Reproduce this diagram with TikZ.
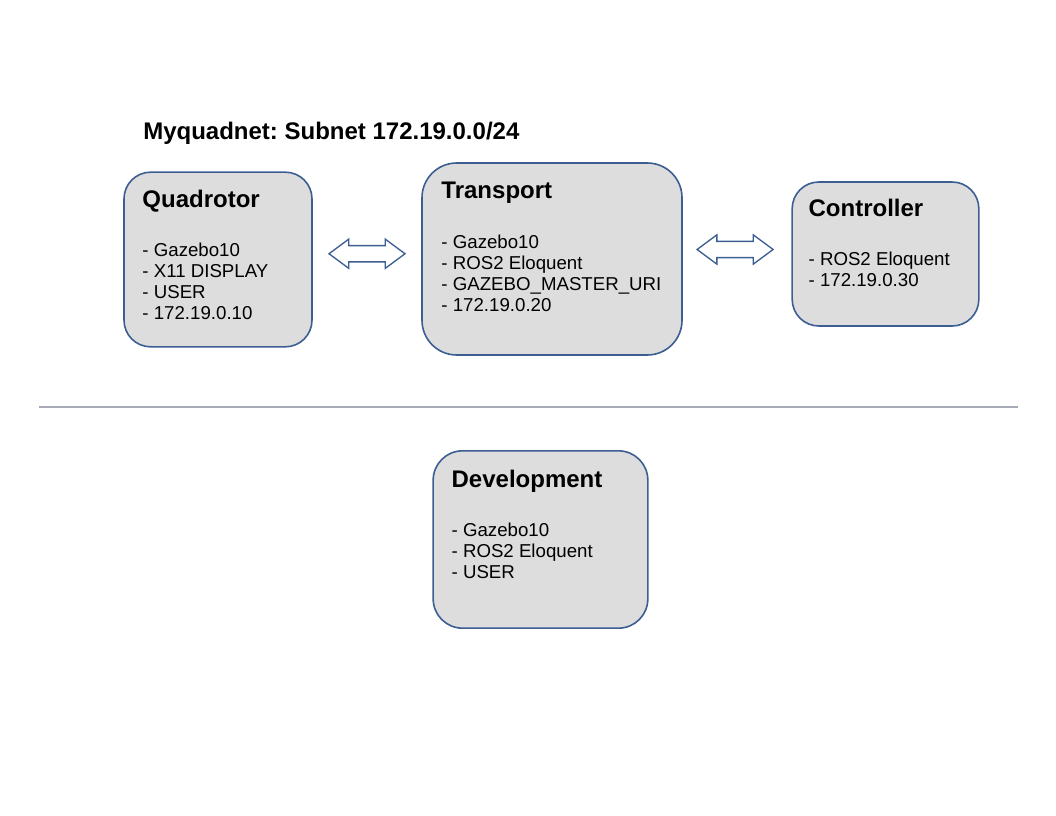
\documentclass[tikz,border=0pt]{standalone}
\usepackage{fontspec}
\setmainfont{Liberation Sans}
\usetikzlibrary{calc,shapes.arrows}

\definecolor{boxblue}{RGB}{60,94,146}
\definecolor{boxgray}{RGB}{221,221,221}
\definecolor{linegray}{RGB}{165,170,180}

\newcommand{\hostitems}[1]{\begin{tabular}[t]{@{}l@{}}#1\end{tabular}}

\tikzset{
  hostbox/.style={draw=boxblue, fill=boxgray, line width=1.2pt, rounded corners=#1, inner sep=0pt},
  hosthead/.style={anchor=base west, inner sep=0pt, font=\fontsize{18}{21}\selectfont\bfseries\frenchspacing},
  hostlist/.style={anchor=base west, inner sep=0pt, font=\fontsize{14}{15.75}\selectfont},
  linkarrow/.style={double arrow, draw=boxblue, fill=white, line width=1pt, inner xsep=0pt, inner ysep=5.6pt,
    double arrow head extend=4.9pt, double arrow tip angle=73, minimum height=57pt}
}

\begin{document}
\begin{tikzpicture}[x=0.75pt, y=-0.75pt]
\useasboundingbox (0,0) rectangle (1056,816);

\node[hosthead] (title) at (143,140) {Myquadnet: Subnet 172.19.0.0/24};

% the hosts on the subnet
\node[hostbox=20pt, minimum width=141pt, minimum height=131pt] (quad) at (218,259.5) {};
\node[hostbox=26pt, minimum width=195pt, minimum height=144pt] (trans) at (552,259) {};
\node[hostbox=20pt, minimum width=140pt, minimum height=108pt] (ctrl) at (885.5,254) {};

\node[hosthead] (quadhead) at ($(quad.north west)+(19,36)$) {Quadrotor};
\node[hostlist] (quadlist) at ($(quad.north west)+(19,85)$) {\hostitems{- Gazebo10\\- X11 DISPLAY\\- USER\\- 172.19.0.10}};

\node[hosthead] (transhead) at ($(trans.north west)+(20,36)$) {Transport};
\node[hostlist] (translist) at ($(trans.north west)+(20,86)$) {\hostitems{- Gazebo10\\- ROS2 Eloquent\\- GAZEBO\_MASTER\_URI\\- 172.19.0.20}};

\node[hosthead] (ctrlhead) at ($(ctrl.north west)+(17,35)$) {Controller};
\node[hostlist] (ctrllist) at ($(ctrl.north west)+(17,84)$) {\hostitems{- ROS2 Eloquent\\- 172.19.0.30}};

% links
\node[linkarrow] (quadtrans) at ($(quad.east)!0.5!(trans.west)+(0,-5.5)$) {};
\node[linkarrow] (transctrl) at ($(trans.east)!0.5!(ctrl.west)+(-2,-7)$) {};

% separator
\coordinate (sepl) at (39,407);
\coordinate (sepr) at (1018,407);
\draw[linegray, line width=1pt] (sepl) -- (sepr);

\node[hostbox=22pt, minimum width=161pt, minimum height=133pt] (dev) at (540.5,539.5) {};
\node[hosthead] (devhead) at ($(dev.north west)+(19,37)$) {Development};
\node[hostlist] (devlist) at ($(dev.north west)+(19,86)$) {\hostitems{- Gazebo10\\- ROS2 Eloquent\\- USER}};
\end{tikzpicture}
\end{document}
